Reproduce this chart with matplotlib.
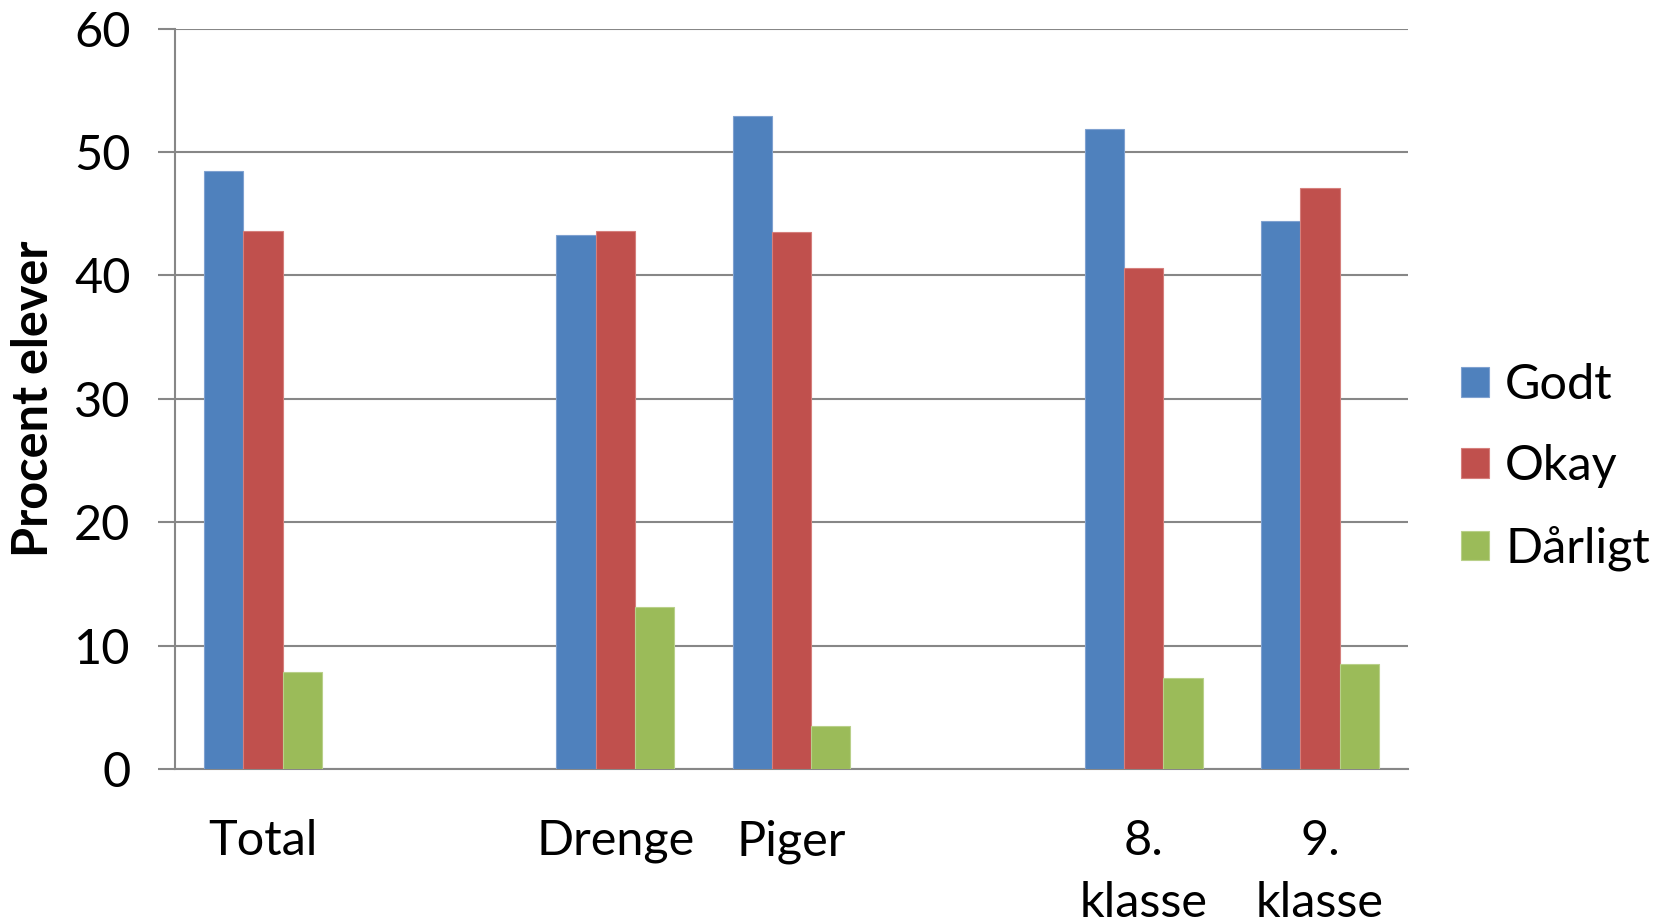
import matplotlib
matplotlib.use("Agg")
import matplotlib.pyplot as plt
import numpy as np

categories = ["Total", "", "Drenge", "Piger", "", "8.\nklasse", "9.\nklasse"]
series_names = ["Godt", "Okay", "Dårligt"]
godt = [48.5, np.nan, 43.3, 52.9, np.nan, 51.9, 44.4]
okay = [43.6, np.nan, 43.6, 43.5, np.nan, 40.6, 47.1]
daarligt = [7.9, np.nan, 13.1, 3.5, np.nan, 7.4, 8.5]
yticks = [0, 10, 20, 30, 40, 50, 60]
ylabel = "Procent elever"

colors = ["#4F81BD", "#C0504D", "#9BBB59"]
edges = ["#7FA1D0", "#D57F7C", "#B9D08A"]
grid_c = "#878787"

plt.rcParams['font.family'] = ['Lato', 'DejaVu Sans']

fig = plt.figure(figsize=(16.63, 9.24), dpi=100)
ax = fig.add_axes([0.1052, 0.1677, 0.7415, 0.8013])

x = np.arange(len(categories))
w = 0.223
for i, (vals, c, e, name) in enumerate(zip([godt, okay, daarligt], colors, edges, series_names)):
    ax.bar(x + (i - 1) * w, vals, width=w, color=c, edgecolor=e, linewidth=0.8,
           label=name, zorder=3)

ax.set_xlim(-0.5, len(categories) - 0.5)
ax.set_ylim(0, 60)
ax.set_yticks(yticks)
ax.set_yticklabels([str(t) for t in yticks], fontsize=35)
ax.yaxis.grid(True, color=grid_c, linewidth=1.5, zorder=0)
ax.set_axisbelow(True)
ax.tick_params(axis='y', length=12, width=1.5, color=grid_c, pad=20)
ax.set_xticks(x)
ax.set_xticklabels(categories, fontsize=35, linespacing=1.5)
ax.tick_params(axis='x', length=0, pad=36)

for s in ["top", "right"]:
    ax.spines[s].set_visible(False)
ax.spines["left"].set_color(grid_c)
ax.spines["left"].set_linewidth(1.5)
ax.spines["bottom"].set_color(grid_c)
ax.spines["bottom"].set_linewidth(1.5)

ax.set_ylabel(ylabel, fontsize=35, fontweight='bold')
ax.yaxis.set_label_coords(-0.1144, 0.5)
ax.yaxis.label.set_verticalalignment('center')

fig.legend(loc='center left', bbox_to_anchor=(0.8787, 0.4946), frameon=False,
           fontsize=35, handlelength=0.57, handleheight=0.57, handletextpad=0.33,
           labelspacing=0.77, borderpad=0, borderaxespad=0)

fig.savefig("out.png", dpi=100)
